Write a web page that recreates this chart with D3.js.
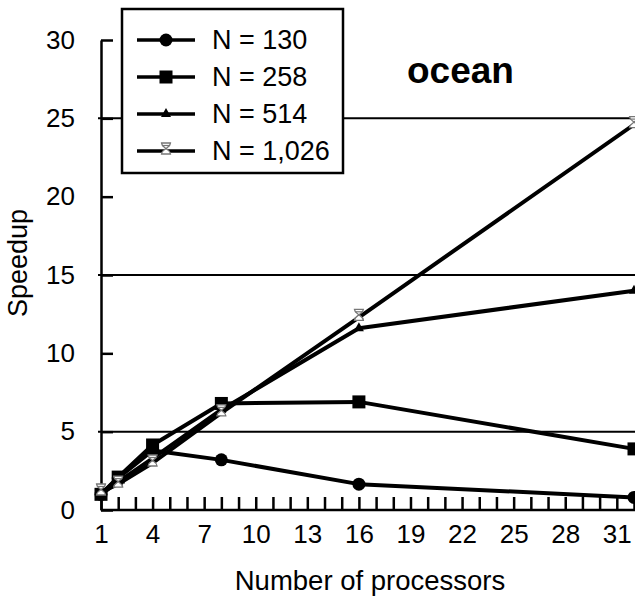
<!DOCTYPE html>
<html>
<head>
<meta charset="utf-8">
<script src="https://cdn.jsdelivr.net/npm/d3@7.9.0/dist/d3.min.js"></script>
<style>
  body { margin: 0; background: #fff; }
  svg { display: block; font-family: "Liberation Sans", Arial, sans-serif; }
  .axis text { font-size: 26px; fill: #000; }
  .axis path, .axis line { stroke: #000; stroke-width: 2.5px; }
</style>
</head>
<body>
<svg id="chart" width="635" height="597"></svg>
<script>
// processor counts and speedup per problem size
const procs = [1, 2, 4, 8, 16, 32];
const n130 = [1, 2.05, 3.8, 3.2, 1.65, 0.8];
const n258 = [1, 2.1, 4.15, 6.8, 6.9, 3.9];
const n514 = [1, 1.8, 3.3, 6.4, 11.6, 14.0];
const n1026 = [1.15, 1.65, 3.0, 6.2, 12.3, 24.6];
const seriesNames = ["N = 130", "N = 258", "N = 514", "N = 1,026"];
const markers = ["circle", "square", "triangle", "glass"];
const yTicks = [0, 5, 10, 15, 20, 25, 30];
const gridAt = [5, 15, 25];

const series = [n130, n258, n514, n1026].map((vals, i) => ({
  name: seriesNames[i],
  marker: markers[i],
  points: procs.map((p, j) => ({ p, v: vals[j] }))
}));

const svg = d3.select("#chart");
const x = d3.scaleLinear().domain([1, 32]).range([101, 634]);
const y = d3.scaleLinear().domain([0, 30]).range([510, 40]);

// horizontal rules
svg.append("g").selectAll("line")
  .data(gridAt)
  .join("line")
  .attr("x1", 98).attr("x2", 635)
  .attr("y1", d => y(d)).attr("y2", d => y(d))
  .attr("stroke", "#000").attr("stroke-width", 2);

// axes
svg.append("g")
  .attr("class", "axis")
  .attr("transform", `translate(0,${y(0)})`)
  .call(d3.axisBottom(x)
    .tickValues(d3.range(1, 33))
    .tickSizeInner(-13).tickSizeOuter(0).tickPadding(15)
    .tickFormat(d => (d - 1) % 3 === 0 ? d : ""));
svg.select(".axis path").attr("d", `M${x(1)},0H635`);

svg.append("g")
  .attr("class", "axis")
  .attr("transform", `translate(${x(1)},0)`)
  .call(d3.axisLeft(y)
    .tickValues(yTicks)
    .tickSizeInner(-12).tickSizeOuter(0).tickPadding(26));

// marker shapes
function drawMarker(g, type) {
  if (type === "circle") {
    g.append("circle").attr("r", 6.5).attr("fill", "#000");
  } else if (type === "square") {
    g.append("rect").attr("x", -6.5).attr("y", -6.5)
      .attr("width", 13).attr("height", 13).attr("fill", "#000");
  } else if (type === "triangle") {
    g.append("path").attr("d", "M0,-6L5,3H-5Z").attr("fill", "#000");
  } else {
    g.append("path")
      .attr("d", "M-4.5,-8H4.5C4.5,-5 1,-3.5 0,-2.5C1,-1.5 4.5,0 4.5,3H-4.5C-4.5,0 -1,-1.5 0,-2.5C-1,-3.5 -4.5,-5 -4.5,-8Z")
      .attr("fill", "#fff").attr("stroke", "#777").attr("stroke-width", 1.3);
    g.append("line").attr("x1", -3.5).attr("x2", 3.5).attr("y1", -5.5).attr("y2", -5.5)
      .attr("stroke", "#777").attr("stroke-width", 1.2);
  }
}

const line = d3.line().x(d => x(d.p)).y(d => y(d.v));

const sg = svg.append("g").selectAll("g")
  .data(series)
  .join("g");

sg.append("path")
  .attr("d", d => line(d.points))
  .attr("fill", "none")
  .attr("stroke", "#000")
  .attr("stroke-width", 4)
  .attr("stroke-linejoin", "round");

sg.each(function (s) {
  d3.select(this).selectAll("g.m")
    .data(s.points)
    .join("g")
    .attr("class", "m")
    .attr("transform", d => `translate(${x(d.p)},${y(d.v)})`)
    .each(function () { drawMarker(d3.select(this), s.marker); });
});

// legend
const legend = svg.append("g");
legend.append("rect")
  .attr("x", 122).attr("y", 9).attr("width", 221).attr("height", 164)
  .attr("fill", "#fff").attr("stroke", "#000").attr("stroke-width", 2.5);

const rows = legend.selectAll("g.row")
  .data(series)
  .join("g")
  .attr("class", "row")
  .attr("transform", (d, i) => `translate(0,${40 + i * 37})`);

rows.append("line")
  .attr("x1", 137).attr("x2", 195)
  .attr("stroke", "#000").attr("stroke-width", 3.5);
rows.append("g")
  .attr("transform", "translate(166,0)")
  .each(function (d) { drawMarker(d3.select(this), d.marker); });
rows.append("text")
  .attr("x", 212).attr("y", 9)
  .attr("font-size", 27)
  .text(d => d.name);

// titles
svg.append("text")
  .attr("x", 407).attr("y", 83)
  .attr("font-size", 37).attr("font-weight", "bold")
  .text("ocean");

svg.append("text")
  .attr("x", 370).attr("y", 590)
  .attr("text-anchor", "middle")
  .attr("font-size", 27.5)
  .text("Number of processors");

svg.append("text")
  .attr("transform", "translate(27,263) rotate(-90)")
  .attr("text-anchor", "middle")
  .attr("font-size", 27)
  .text("Speedup");
</script>
</body>
</html>
